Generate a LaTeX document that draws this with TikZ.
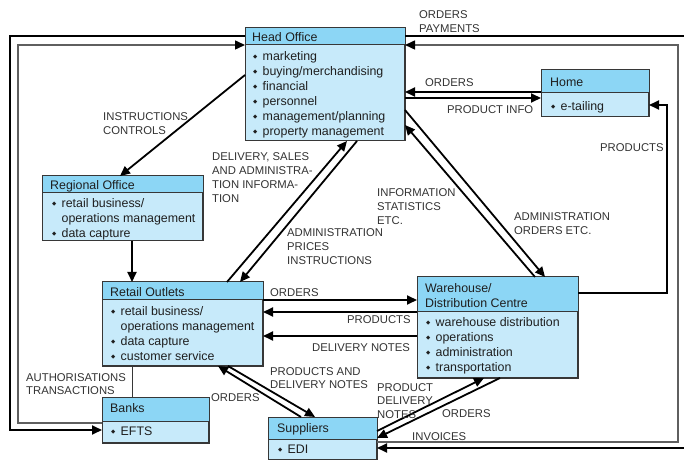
\documentclass[tikz,border=0pt]{standalone}
\usepackage{fontspec}
\setmainfont{Liberation Sans}
\newfontfamily\dvfont{DejaVu Sans}
\usetikzlibrary{arrows.meta,calc}
\definecolor{hdrc}{RGB}{140,214,245}
\definecolor{bodyc}{RGB}{199,234,250}
\definecolor{boxc}{RGB}{55,55,55}
\definecolor{loopc}{RGB}{95,95,95}
\definecolor{labc}{RGB}{50,50,50}
\newcommand\bl{\makebox[9.5bp][l]{\raisebox{2.4bp}{\dvfont\fontsize{5.5bp}{5.5bp}\selectfont ◆}}}
\newcommand\ind{\hspace*{9.5bp}}
\newcommand\mkhdr[2]{%
  \fill[hdrc] (#1.north west) rectangle ($(#1.north east)+(0,#2)$);
  \draw[boxc,line width=1bp] (#1.north west) rectangle (#1.south east)
    ($(#1.north west)+(0,#2)$) -- ($(#1.north east)+(0,#2)$);}
\begin{document}
\begin{tikzpicture}[x=1bp,y=-1bp,
  box/.style={draw=boxc,line width=1bp,fill=bodyc,inner sep=0pt,anchor=north west},
  boxtxt/.style={font=\fontsize{12.4bp}{15bp}\selectfont,text=black!88,inner sep=0pt,anchor=base west,align=left},
  lab/.style={font=\fontsize{11.3bp}{13.7bp}\selectfont,text=labc,inner sep=0pt,anchor=base west,align=left},
  conn/.style={line width=1.8bp,draw=black},
  tip/.style={-{Triangle[length=10bp,width=9bp,color=black]}},
  loopline/.style={line width=1.5bp,draw=loopc},
  thinline/.style={line width=1bp,draw=boxc},
]
\useasboundingbox (0,0) rectangle (684,460);

% ---------- boxes ----------
\node[box,minimum width=159bp,minimum height=112bp] (ho) at (245,28) {};
\mkhdr{ho}{17}
\node[box,minimum width=107bp,minimum height=46bp] (home) at (541,70) {};
\mkhdr{home}{23}
\node[box,minimum width=160bp,minimum height=64bp] (reg) at (42,176) {};
\mkhdr{reg}{17}
\node[box,minimum width=160bp,minimum height=83bp] (ret) at (102,282) {};
\mkhdr{ret}{18}
\node[box,minimum width=106bp,minimum height=45bp] (bank) at (102,397) {};
\mkhdr{bank}{24}
\node[box,minimum width=108bp,minimum height=42bp] (sup) at (268,417) {};
\mkhdr{sup}{22}
\node[box,minimum width=160bp,minimum height=100bp] (wh) at (417,277) {};
\mkhdr{wh}{35}

% ---------- box texts (multi-line: base = last line) ----------
\node[boxtxt] (hoT) at (252,41.4) {Head Office};
\node[boxtxt] (hoL) at (253,135.5) {\bl marketing\\\bl buying/merchandising\\\bl financial\\\bl personnel\\\bl management/planning\\\bl property management};
\node[boxtxt] (homeT) at (550,86.4) {Home};
\node[boxtxt] (homeL) at (551,110.5) {\bl e-tailing};
\node[boxtxt] (regT) at (50,190) {Regional Office};
\node[boxtxt] (regL) at (52,237.5) {\bl retail business/\\\ind operations management\\\bl data capture};
\node[boxtxt] (retT) at (110,296.4) {Retail Outlets};
\node[boxtxt] (retL) at (111,360.5) {\bl retail business/\\\ind operations management\\\bl data capture\\\bl customer service};
\node[boxtxt] (bankT) at (110,412.4) {Banks};
\node[boxtxt] (bankL) at (111,435.5) {\bl EFTS};
\node[boxtxt] (supT) at (277,432.4) {Suppliers};
\node[boxtxt] (supL) at (278,453.5) {\bl EDI};
\node[boxtxt] (whT) at (425,307.4) {Warehouse/\\Distribution Centre};
\node[boxtxt] (whL) at (426,371.5) {\bl warehouse distribution\\\bl operations\\\bl administration\\\bl transportation};

% ---------- outer loops ----------
\draw[conn,tip] (ho.west |- 0,36) -- (10,36) -- (10,430) -- (bank.west |- 0,430);
\draw[loopline,tip] (bank.west |- 0,423) -- (18,423) -- (18,45) -- (ho.west |- 0,45);
\draw[conn,tip] (ho.east |- 0,36) -- (700,36) -- (700,448) -- (sup.east |- 0,448);
\draw[loopline,tip] (sup.east |- 0,442) -- (678,442) -- (678,45) -- (ho.east |- 0,45);

% ---------- connectors ----------
\draw[conn,tip] (ho.west |- 0,75) -- ($(reg.north west)+(78,0)$);
\draw[conn,tip] (reg.south west -| 132,0) -- (ret.north west -| 132,0);
\draw[thinline] (ret.south west -| 132,0) -- (bank.north west -| 132,0);
\draw[conn,tip] ($(ret.north west)+(125,0)$) -- ($(ho.south west)+(102,0)$);
\draw[conn,tip] ($(ho.south west)+(112,0)$) -- ($(ret.north west)+(138,0)$);
\draw[conn,tip] ($(wh.north west)+(118,0)$) -- (ho.east |- 0,125);
\draw[conn,tip] (ho.east |- 0,110) -- ($(wh.north west)+(128,0)$);
\draw[conn,tip] (home.west |- 0,92) -- (ho.east |- 0,92);
\draw[conn,tip] (ho.east |- 0,98) -- (home.west |- 0,98);
\draw[conn,tip] (wh.east |- 0,293) -- (667,293) -- (667,105) -- (home.east |- 0,105);
\draw[conn,tip] (ret.east |- 0,300) -- (wh.west |- 0,300);
\draw[conn,tip] (wh.west |- 0,312) -- (ret.east |- 0,312);
\draw[conn,tip] (wh.west |- 0,336) -- (ret.east |- 0,336);
\draw[conn,tip] ($(sup.north west)+(33,0)$) -- ($(ret.south west)+(116,0)$);
\draw[conn,tip] ($(ret.south west)+(126,0)$) -- ($(sup.north west)+(47,0)$);
\draw[conn,tip] (sup.east |- 0,431) -- ($(wh.south west)+(67,0)$);
\draw[conn,tip] ($(wh.south west)+(83,0)$) -- (sup.east |- 0,438);

% ---------- labels (multi-line: base = last line) ----------
\node[lab] (l1) at (419,32.7) {ORDERS\\PAYMENTS};
\node[lab] (l2) at (103,134.7) {INSTRUCTIONS\\CONTROLS};
\node[lab] (l3) at (425,87) {ORDERS};
\node[lab] (l4) at (447,114) {PRODUCT INFO};
\node[lab] (l5) at (600,152) {PRODUCTS};
\node[lab] (l6) at (212,202.1) {DELIVERY, SALES\\AND ADMINISTRA-\\TION INFORMA-\\TION};
\node[lab] (l7) at (377,224.4) {INFORMATION\\STATISTICS\\ETC.};
\node[lab] (l8) at (514,234.7) {ADMINISTRATION\\ORDERS ETC.};
\node[lab] (l9) at (287,264.4) {ADMINISTRATION\\PRICES\\INSTRUCTIONS};
\node[lab] (l10) at (270,297) {ORDERS};
\node[lab] (l11) at (347,324) {PRODUCTS};
\node[lab] (l12) at (312,351) {DELIVERY NOTES};
\node[lab] (l13) at (26,394.7) {AUTHORISATIONS\\TRANSACTIONS};
\node[lab] (l14) at (211,401) {ORDERS};
\node[lab] (l15) at (270,388.7) {PRODUCTS AND\\DELIVERY NOTES};
\node[lab] (l16) at (377,418.4) {PRODUCT\\DELIVERY\\NOTES};
\node[lab] (l17) at (442,417) {ORDERS};
\node[lab] (l18) at (412,440) {INVOICES};
\end{tikzpicture}
\end{document}
